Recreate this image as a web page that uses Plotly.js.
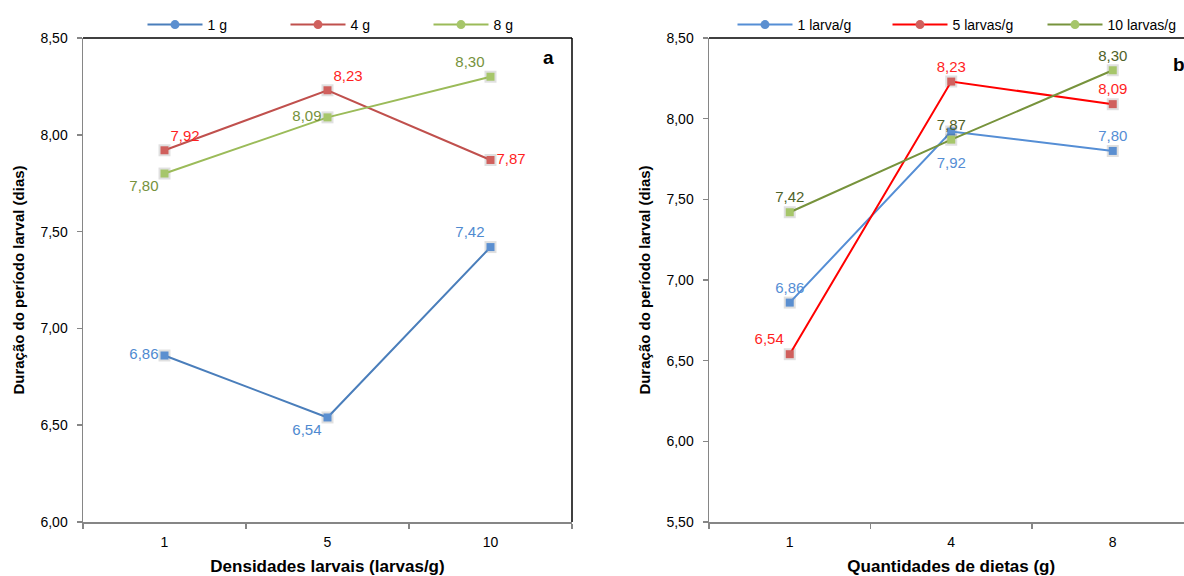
<!DOCTYPE html>
<html><head><meta charset="utf-8">
<script src="https://cdn.plot.ly/plotly-3.0.1.min.js"></script>
<style>html,body{margin:0;padding:0;overflow:hidden;background:#fff}#chart{width:1200px;height:576px}</style>
</head><body><div id="chart"></div><script>
// ---- data ----
const densidades = ['1', '5', '10'];
const dietas = ['1', '4', '8'];
const a_1g = [6.86, 6.54, 7.42];
const a_4g = [7.92, 8.23, 7.87];
const a_8g = [7.80, 8.09, 8.30];
const b_1larva = [6.86, 7.92, 7.80];
const b_5larvas = [6.54, 8.23, 8.09];
const b_10larvas = [7.42, 7.87, 8.30];
const namesA = ['1 g', '4 g', '8 g'];
const namesB = ['1 larva/g', '5 larvas/g', '10 larvas/g'];
const yTicksA = [6.0, 6.5, 7.0, 7.5, 8.0, 8.5];
const yTicksB = [5.5, 6.0, 6.5, 7.0, 7.5, 8.0, 8.5];
const yTitle = 'Duração do período larval (dias)';
const xTitleA = 'Densidades larvais (larvas/g)';
const xTitleB = 'Quantidades de dietas (g)';

const fmt = v => v.toFixed(2).replace('.', ',');
const FONT = 'Liberation Sans, Arial, sans-serif';
const W = 1200, H = 576;

function series(x, y, xa, ya, lineColor, markerColor, textColor, pos, legendName, legendId, pre) {
  const out = [];
  out.push({ x: x, y: y, xaxis: xa, yaxis: ya, type: 'scatter', mode: 'markers',
    marker: { symbol: 'square', size: 12, color: 'rgba(0,0,0,0.12)' },
    showlegend: false, hoverinfo: 'skip' });
  out.push({ x: x, y: y, xaxis: xa, yaxis: ya, type: 'scatter', mode: 'lines+markers+text',
    line: { color: lineColor, width: 2 },
    marker: { symbol: 'square', size: 8, color: markerColor, line: { color: markerColor, width: 0 } },
    text: y.map((v, i) => (pre ? pre[i] : '') + fmt(v)), textposition: pos,
    textfont: { family: FONT, size: 15, color: textColor },
    showlegend: false, cliponaxis: false });
  out.push({ x: [null], y: [null], xaxis: xa, yaxis: ya, type: 'scatter', mode: 'lines+markers',
    name: legendName, legend: legendId,
    line: { color: lineColor, width: 2 },
    marker: { symbol: 'circle', size: 9, color: markerColor } });
  return out;
}

const data = [].concat(
  series(densidades, a_1g, 'x', 'y', '#4a7ebb', '#5b8fd0', '#4f8ad0', ['middle left', 'bottom left', 'top left'], namesA[0], 'legend'),
  series(densidades, a_4g, 'x', 'y', '#c0504d', '#d0605d', '#ff1f1f', ['top right', 'top right', 'middle right'], namesA[1], 'legend'),
  series(densidades, a_8g, 'x', 'y', '#9bbb59', '#a6c66a', '#76923c', ['bottom left', 'middle left', 'top left'], namesA[2], 'legend'),
  series(dietas, b_1larva, 'x2', 'y2', '#558ed5', '#5b8fd0', '#558ed5', ['top center', 'bottom center', 'top center'], namesB[0], 'legend2',
    ['', '<span style="font-size:8px"> </span><br>', '']),
  series(dietas, b_5larvas, 'x2', 'y2', '#ff0000', '#d0605d', '#ff1f1f', ['top left', 'top center', 'top center'], namesB[1], 'legend2'),
  series(dietas, b_10larvas, 'x2', 'y2', '#77933c', '#a6c66a', '#4f6228', ['top center', 'top center', 'top center'], namesB[2], 'legend2')
);

const yDom = [(H - 522) / H, (H - 38) / H];
const gray = '#868686';
function xAxis(dom, title) {
  return { domain: dom, type: 'category', range: [-0.5, 2.5], showline: true, linecolor: gray, linewidth: 1.5,
    ticks: 'outside', tickson: 'boundaries', ticklen: 5, tickcolor: gray, tickwidth: 1.5,
    showgrid: false, zeroline: false, fixedrange: true, automargin: false, ticklabelstandoff: 7,
    tickfont: { family: FONT, size: 14, color: '#000' },
    title: { text: '<b>' + title + '</b>', font: { family: FONT, size: 17, color: '#000' }, standoff: 11 } };
}
function yAxis(range, ticks, anchor) {
  return { domain: yDom, range: range, anchor: anchor, tickvals: ticks, ticktext: ticks.map(fmt),
    showline: true, linecolor: gray, linewidth: 1.5, ticks: 'outside', ticklen: 5, tickcolor: gray, tickwidth: 1.5,
    showgrid: false, zeroline: false, fixedrange: true, ticklabelstandoff: 6, automargin: false,
    tickfont: { family: FONT, size: 14, color: '#000' },
    title: { text: '<b>' + yTitle + '</b>', font: { family: FONT, size: 15, color: '#000' }, standoff: 12 } };
}

const layout = {
  width: W, height: H, margin: { l: 0, r: 0, t: 0, b: 0, autoexpand: false },
  paper_bgcolor: '#fff', plot_bgcolor: '#fff', showlegend: true,
  xaxis: xAxis([83 / W, 572 / W], xTitleA),
  yaxis: yAxis([6, 8.5], yTicksA, 'x'),
  xaxis2: Object.assign(xAxis([709 / W, 1193.5 / W], xTitleB), { anchor: 'y2' }),
  yaxis2: yAxis([5.5, 8.5], yTicksB, 'x2'),
  legend: { orientation: 'h', x: 357 / W, xanchor: 'center', y: (H - 25) / H, yanchor: 'middle',
    font: { family: FONT, size: 14, color: '#000' }, itemwidth: 55, entrywidth: 73, bgcolor: 'rgba(0,0,0,0)' },
  legend2: { orientation: 'h', x: 965 / W, xanchor: 'center', y: (H - 25) / H, yanchor: 'middle',
    font: { family: FONT, size: 14, color: '#000' }, itemwidth: 55, entrywidth: 85, bgcolor: 'rgba(0,0,0,0)' },
  shapes: [
    { type: 'line', xref: 'x domain', yref: 'y domain', x0: 0, x1: 1, y0: 1, y1: 1, line: { color: '#000', width: 1.5 } },
    { type: 'line', xref: 'x domain', yref: 'y domain', x0: 1, x1: 1, y0: 0, y1: 1, line: { color: '#000', width: 1.5 } },
    { type: 'line', xref: 'x2 domain', yref: 'y2 domain', x0: 0, x1: 1, y0: 1, y1: 1, line: { color: '#000', width: 1.5 } }
  ],
  annotations: [
    { text: '<b>a</b>', xref: 'paper', yref: 'paper', x: 548 / W, y: (H - 58) / H, xanchor: 'center', yanchor: 'middle',
      showarrow: false, font: { family: FONT, size: 19, color: '#000' } },
    { text: '<b>b</b>', xref: 'paper', yref: 'paper', x: 1179 / W, y: (H - 64) / H, xanchor: 'center', yanchor: 'middle',
      showarrow: false, font: { family: FONT, size: 19, color: '#000' } }
  ]
};

Plotly.newPlot('chart', data, layout, { displayModeBar: false, staticPlot: true });
</script></body></html>
